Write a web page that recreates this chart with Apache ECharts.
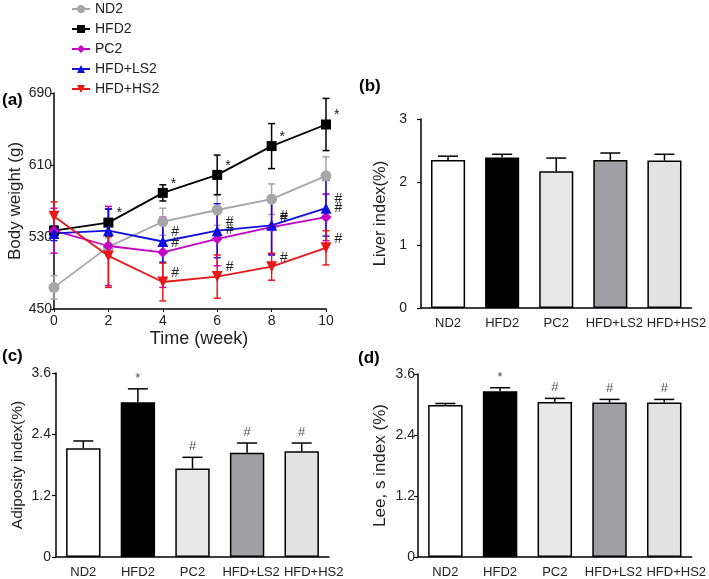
<!DOCTYPE html>
<html>
<head>
<meta charset="utf-8">
<title>Body weight and indices</title>
<script src="https://cdn.jsdelivr.net/npm/echarts@6/dist/echarts.min.js"></script>
<style>
  html, body { margin: 0; padding: 0; background: #fff; }
  #main { width: 709px; height: 579px; }
</style>
</head>
<body>
<div id="main"></div>
<script>
// ---- data ----
var weeks = [0, 2, 4, 6, 8, 10];
var groups = ['ND2', 'HFD2', 'PC2', 'HFD+LS2', 'HFD+HS2'];

var nd2W = [474, 519, 547, 560, 572, 598];
var nd2Err = [13, 10, 15, 17, 17, 21];
var hfd2W = [537, 546, 579, 599, 631, 655];
var hfd2Err = [5, 15, 9, 22, 25, 29];
var pc2W = [537, 520, 513, 528, 541, 552];
var pc2Err = [25, 44, 39, 30, 30, 26];
var ls2W = [534, 537, 525, 537, 543, 562];
var ls2Err = [8, 24, 23, 30, 33, 31];
var hs2W = [553, 509, 480, 486, 497, 518];
var hs2Err = [16, 35, 21, 24, 15, 19];

var hfd2Sig = ['', '*', '*', '*', '*', '*'];
var treatSig = ['', '', '#', '#', '#', '#'];

var liver = [2.35, 2.39, 2.17, 2.35, 2.34];
var liverErr = [0.06, 0.05, 0.21, 0.11, 0.10];
var adiposity = [2.13, 3.03, 1.73, 2.04, 2.07];
var adiposityErr = [0.14, 0.26, 0.22, 0.19, 0.16];
var lee = [2.99, 3.26, 3.05, 3.04, 3.04];
var leeErr = [0.03, 0.07, 0.07, 0.06, 0.06];
var barSig = ['', '*', '#', '#', '#'];

// ---- styles ----
var lineColors = ['#a6a6a6', '#000000', '#c400c4', '#1010dd', '#e81818'];
var symbols = ['circle', 'rect', 'diamond', 'triangle', 'triangle'];
var symbolRot = [0, 0, 0, 0, 180];
var barColors = ['#ffffff', '#000000', '#e8e8e8', '#a0a0a4', '#e2e2e2'];
// last two category labels sit a bit to the right in the original
var labelPad = [0, 0, 0, 8, 24];
var font = 'Arial, "Liberation Sans", sans-serif';

var myChart = echarts.init(document.getElementById('main'));

function errorSeries(xi, yi, xs, ys, errs, color, upOnly, capW) {
    return {
        type: 'custom',
        xAxisIndex: xi,
        yAxisIndex: yi,
        silent: true,
        z: 1,
        data: xs.map(function (x, i) { return [x, ys[i], errs[i]]; }),
        renderItem: function (params, api) {
            var x = api.value(0), y = api.value(1), e = api.value(2);
            var top = api.coord([x, y + e]);
            var bot = api.coord([x, upOnly ? y : y - e]);
            var st = { stroke: color, lineWidth: 1.5 };
            var kids = [
                { type: 'line', shape: { x1: top[0], y1: top[1], x2: bot[0], y2: bot[1] }, style: st },
                { type: 'line', shape: { x1: top[0] - capW / 2, y1: top[1], x2: top[0] + capW / 2, y2: top[1] }, style: st }
            ];
            if (!upOnly) {
                kids.push({ type: 'line', shape: { x1: bot[0] - capW / 2, y1: bot[1], x2: bot[0] + capW / 2, y2: bot[1] }, style: st });
            }
            return { type: 'group', children: kids };
        }
    };
}

function lineSeries(name, k, ys, sig) {
    return {
        name: name,
        type: 'line',
        xAxisIndex: 0,
        yAxisIndex: 0,
        z: 3,
        data: weeks.map(function (w, i) { return [w, ys[i]]; }),
        symbol: symbols[k],
        symbolRotate: symbolRot[k],
        symbolSize: k === 1 ? 10 : 11,
        lineStyle: { color: lineColors[k], width: 1.8 },
        itemStyle: { color: lineColors[k] },
        label: {
            show: !!sig,
            position: 'right',
            distance: 3,
            offset: [0, -9],
            fontFamily: font,
            fontSize: 14,
            color: '#222',
            formatter: function (p) { return sig ? sig[p.dataIndex] : ''; }
        }
    };
}

function barSeries(xi, vals) {
    return {
        type: 'bar',
        xAxisIndex: xi,
        yAxisIndex: xi,
        z: 2,
        barWidth: '63%',
        data: vals.map(function (v, i) {
            return { value: v, itemStyle: { color: barColors[i] } };
        }),
        itemStyle: { borderColor: '#000', borderWidth: 1.5 }
    };
}

function sigSeries(xi, vals, errs, sig) {
    return {
        type: 'scatter',
        xAxisIndex: xi,
        yAxisIndex: xi,
        symbolSize: 0,
        silent: true,
        data: vals.map(function (v, i) { return [i, v + errs[i]]; }),
        label: {
            show: true,
            position: 'top',
            distance: 4,
            fontFamily: font,
            fontSize: 13,
            color: '#222',
            formatter: function (p) { return sig[p.dataIndex]; }
        }
    };
}

var axisLine = { lineStyle: { color: '#000', width: 1.5 } };

function catAxis(gi) {
    return {
        type: 'category', gridIndex: gi,
        data: groups.map(function (g, i) {
            return { value: g, textStyle: { padding: [0, 0, 0, labelPad[i]] } };
        }),
        axisLine: axisLine, axisTick: { show: false },
        axisLabel: { color: '#222', fontSize: 13, fontFamily: font, margin: 9, interval: 0 }
    };
}
function valAxis(gi, max, interval, name, gap, nameSize, margin) {
    return {
        type: 'value', gridIndex: gi, min: 0, max: max, interval: interval,
        name: name, nameLocation: 'middle', nameGap: gap,
        nameTextStyle: { color: '#222', fontSize: nameSize, fontFamily: font },
        axisLine: { show: true, lineStyle: { color: '#000', width: 1.5 } },
        axisTick: { show: true, length: 4, lineStyle: { color: '#000', width: 1.2 } },
        axisLabel: { color: '#222', fontSize: 14, fontFamily: font, margin: margin },
        splitLine: { show: false }
    };
}

var panelLabel = function (txt, x, y) {
    return { type: 'text', left: x, top: y, style: { text: txt, font: 'bold 17px ' + font, fill: '#000' } };
};

myChart.setOption({
    animation: false,
    backgroundColor: '#fff',
    legend: {
        data: groups,
        orient: 'vertical',
        left: 71,
        top: 2,
        padding: 0,
        itemGap: 6,
        itemWidth: 18,
        itemHeight: 10,
        textStyle: { color: '#222', fontSize: 14, fontFamily: font }
    },
    graphic: [
        panelLabel('(a)', 2, 92),
        panelLabel('(b)', 359, 78),
        panelLabel('(c)', 2, 348),
        panelLabel('(d)', 358, 350)
    ],
    grid: [
        { left: 54, top: 93, width: 272, height: 216 },
        { left: 421, top: 119, width: 273, height: 189 },
        { left: 56, top: 373, width: 273, height: 186 },
        { left: 418, top: 374, width: 274, height: 188 }
    ],
    xAxis: [
        {
            type: 'value', gridIndex: 0, min: 0, max: 10, interval: 2,
            name: 'Time (week)', nameLocation: 'middle', nameGap: 21,
            nameTextStyle: { color: '#222', fontSize: 18, fontFamily: font, padding: [0, 0, 0, 18] },
            axisLine: axisLine, axisTick: { show: true, length: 3, lineStyle: { color: '#000' } },
            axisLabel: { color: '#222', fontSize: 14, fontFamily: font, margin: 5 },
            splitLine: { show: false }
        },
        catAxis(1), catAxis(2), catAxis(3)
    ],
    yAxis: [
        {
            type: 'value', gridIndex: 0, min: 450, max: 690, interval: 80,
            name: 'Body weight (g)', nameLocation: 'middle', nameGap: 30,
            nameTextStyle: { color: '#222', fontSize: 17, fontFamily: font },
            axisLine: { show: true, lineStyle: { color: '#000', width: 1.5 } },
            axisTick: { show: true, length: 4, lineStyle: { color: '#000', width: 1.2 } },
            axisLabel: { color: '#222', fontSize: 14, fontFamily: font, margin: 2 },
            splitLine: { show: false }
        },
        valAxis(1, 3, 1, 'Liver index(%)', 32, 16.5, 14),
        valAxis(2, 3.6, 1.2, 'Adiposity index(%)', 30, 15.5, 5),
        valAxis(3, 3.6, 1.2, 'Lee, s index (%)', 29, 17, 3)
    ],
    series: [
        errorSeries(0, 0, weeks, nd2W, nd2Err, lineColors[0], false, 7),
        errorSeries(0, 0, weeks, hfd2W, hfd2Err, lineColors[1], false, 7),
        errorSeries(0, 0, weeks, pc2W, pc2Err, lineColors[2], false, 7),
        errorSeries(0, 0, weeks, ls2W, ls2Err, lineColors[3], false, 7),
        errorSeries(0, 0, weeks, hs2W, hs2Err, lineColors[4], false, 7),
        lineSeries('ND2', 0, nd2W, null),
        lineSeries('HFD2', 1, hfd2W, hfd2Sig),
        lineSeries('PC2', 2, pc2W, treatSig),
        lineSeries('HFD+LS2', 3, ls2W, treatSig),
        lineSeries('HFD+HS2', 4, hs2W, treatSig),

        barSeries(1, liver),
        errorSeries(1, 1, [0, 1, 2, 3, 4], liver, liverErr, '#000', true, 20),
        barSeries(2, adiposity),
        errorSeries(2, 2, [0, 1, 2, 3, 4], adiposity, adiposityErr, '#000', true, 20),
        sigSeries(2, adiposity, adiposityErr, barSig),
        barSeries(3, lee),
        errorSeries(3, 3, [0, 1, 2, 3, 4], lee, leeErr, '#000', true, 20),
        sigSeries(3, lee, leeErr, barSig)
    ]
});
</script>
</body>
</html>
